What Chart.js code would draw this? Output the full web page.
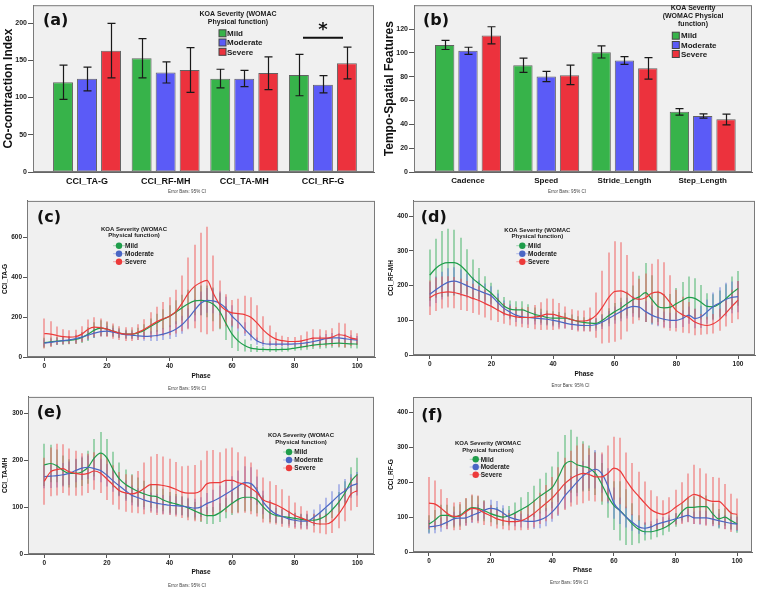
<!DOCTYPE html>
<html>
<head>
<meta charset="utf-8">
<script src="https://cdn.jsdelivr.net/npm/chart.js@4.4.1/dist/chart.umd.min.js"></script>
<style>
  body { margin: 0; background: #fff; width: 757px; height: 589px; position: relative; overflow: hidden; }
  canvas { position: absolute; }
</style>
</head>
<body>
<canvas id="pa" width="378" height="196" style="left:0;top:0"></canvas>
<canvas id="pb" width="379" height="196" style="left:378px;top:0"></canvas>
<canvas id="pc" width="378" height="196" style="left:0;top:196px"></canvas>
<canvas id="pd" width="379" height="196" style="left:378px;top:196px"></canvas>
<canvas id="pe" width="378" height="197" style="left:0;top:392px"></canvas>
<canvas id="pf" width="379" height="197" style="left:378px;top:392px"></canvas>
<script>
const FONT = "'Liberation Sans', Arial, sans-serif";
const sevLabels = ['Mild', 'Moderate', 'Severe'];
const BAR_COL = ['#37b34a', '#5b5bf7', '#ec323d'];
const LINE_COL = ['#1f9d4b', '#4a66c4', '#ec3a3a'];
const ERR_COL = ['rgba(40,170,80,0.42)', 'rgba(90,110,220,0.42)', 'rgba(240,80,80,0.45)'];

// (a) co-contraction index, mean and 95% CI
const aCats = ['CCI_TA-G', 'CCI_RF-MH', 'CCI_TA-MH', 'CCI_RF-G'];
const aTicks = [0, 50, 100, 150, 200];
const aMild = [120.4, 152.7, 125.2, 130.4];
const aMildLo = [97.6, 126.5, 113, 102.4];
const aMildHi = [143.5, 179, 138, 158];
const aMod = [125.2, 133.5, 125.2, 117.3];
const aModLo = [109, 119.5, 114.7, 106.3];
const aModHi = [140.9, 148, 136.5, 129.5];
const aSev = [162.8, 137, 133, 146];
const aSevLo = [126.5, 107, 110.7, 125];
const aSevHi = [199.6, 167, 154.5, 167.6];

// (b) tempo-spatial features
const bCats = ['Cadence', 'Speed', 'Stride_Length', 'Step_Length'];
const bTicks = [0, 20, 40, 60, 80, 100, 120];
const bMild = [106.6, 89.5, 100.6, 50.5];
const bMildLo = [102.8, 83.7, 95.7, 47.7];
const bMildHi = [110.5, 95.5, 105.8, 53.2];
const bMod = [101.7, 80.2, 93.5, 46.9];
const bModLo = [98.7, 75.8, 90.3, 45.3];
const bModHi = [104.7, 84.5, 96.8, 48.8];
const bSev = [114.5, 81.3, 87, 44.2];
const bSevLo = [107.5, 73.4, 78, 39.5];
const bSevHi = [121.9, 89.7, 96, 48.5];

// phase for the curve panels
const phase = [0,2,4,6,8,10,12,14,16,18,20,22,24,26,28,30,32,34,36,38,40,42,44,46,48,50,
  52,54,56,58,60,62,64,66,68,70,72,74,76,78,80,82,84,86,88,90,92,94,96,98,100];
const phaseTicks = [0, 20, 40, 60, 80, 100];

// (c) CCI_TA-G
const cTicks = [0, 200, 400, 600];
const cMild = [72,76,80,82,84,88,98,115,135,145,140,130,120,115,115,122,135,155,172,190,205,225,248,268,282,285,280,265,230,170,115,80,58,45,40,38,37,37,38,40,45,50,55,60,63,66,68,70,68,66,65];
const cMildCI = [25,22,20,20,20,22,28,35,40,40,35,28,25,22,22,25,30,38,45,50,55,60,65,70,72,75,80,85,90,85,70,50,30,20,15,12,12,12,12,12,14,16,18,20,22,22,22,22,22,22,22];
const cMod = [70,74,78,82,86,92,100,110,120,128,130,125,118,112,110,106,104,105,108,115,125,140,162,195,235,270,285,282,270,245,205,175,140,108,80,68,65,65,65,65,66,68,72,78,85,92,96,96,92,88,85];
const cModCI = [18,18,18,18,18,20,22,25,25,25,25,22,20,20,20,20,22,25,28,30,35,40,45,50,55,60,62,62,60,58,55,45,35,25,18,15,14,14,14,14,15,16,18,20,22,24,25,25,24,22,20];
const cSev = [118,115,108,102,100,102,115,140,150,148,140,130,120,115,115,125,140,160,178,192,205,228,270,320,355,375,385,320,265,235,222,218,213,200,170,135,108,90,82,78,78,80,88,95,95,95,100,112,108,95,90];
const cSevCI = [75,65,45,38,35,35,40,48,50,45,40,38,35,35,35,40,50,65,75,85,95,110,140,180,210,250,270,190,120,80,65,75,95,100,90,70,50,35,25,22,22,30,40,45,45,40,45,60,60,40,30];

// (d) CCI_RF-MH
const dTicks = [0, 100, 200, 300, 400];
const dMild = [230,250,262,266,266,258,240,220,206,192,178,160,142,132,130,130,124,117,113,108,106,106,106,102,97,94,92,91,100,113,125,135,148,160,168,180,160,140,136,138,148,158,166,163,152,140,139,148,162,178,192];
const dMildCI = [74,85,95,98,95,80,65,55,45,35,30,28,25,25,25,25,22,20,20,20,20,18,16,15,15,15,15,15,18,22,25,30,35,40,60,85,70,45,40,38,45,52,60,58,50,38,36,38,42,48,50];
const dMod = [175,188,200,210,213,208,200,192,185,178,170,152,135,124,115,110,108,106,105,103,100,96,92,88,86,85,85,88,95,105,115,125,135,140,138,125,115,108,103,100,100,105,115,105,110,125,140,150,160,166,168];
const dModCI = [35,38,40,40,40,38,35,32,30,28,28,25,22,22,20,20,20,18,18,18,18,17,16,15,15,15,16,18,20,22,25,28,30,30,30,30,28,25,22,22,22,24,25,28,32,35,40,45,48,46,45];
const dSev = [165,175,180,182,180,175,170,163,157,148,140,130,120,114,110,108,108,109,112,118,117,112,108,102,98,98,102,115,138,165,183,185,178,165,160,165,178,181,172,150,128,116,108,95,88,85,90,102,120,140,158];
const dSevCI = [50,48,46,45,45,45,43,42,41,40,40,35,30,28,28,28,30,35,40,45,45,38,32,30,30,30,35,65,105,130,145,140,110,75,60,70,85,95,95,80,60,52,45,38,30,25,28,32,38,48,55];

// (e) CCI_TA-MH
const eTicks = [0, 100, 200, 300];
const eMild = [190,193,188,178,172,172,175,185,205,215,205,180,160,148,140,133,128,124,122,115,110,107,103,98,92,86,82,82,88,98,108,117,121,121,115,100,88,82,80,78,76,74,72,72,75,82,95,110,130,155,170];
const eMildCI = [45,40,35,32,30,30,30,35,40,45,40,38,35,32,30,30,28,26,25,24,22,21,20,20,19,18,18,18,20,22,25,28,30,30,28,25,20,16,15,14,12,12,12,12,13,15,18,22,25,30,35];
const eMod = [165,166,167,169,172,178,183,185,182,178,168,156,145,135,125,120,115,111,108,106,104,103,102,100,98,100,108,113,120,128,136,145,152,150,135,110,95,85,80,75,72,70,70,78,88,100,112,125,135,145,150];
const eModCI = [25,25,25,25,25,25,25,25,25,25,24,23,22,22,21,20,20,20,20,20,20,20,20,20,20,21,22,24,26,28,30,33,35,35,30,25,20,18,16,15,15,15,16,17,18,20,22,24,25,25,25];
const eSev = [155,175,180,182,175,172,170,172,177,172,160,147,135,130,128,132,140,148,148,146,143,138,132,130,130,135,150,152,152,157,157,152,148,140,130,115,110,105,98,90,82,77,72,66,64,64,70,85,105,128,135];
const eSevCI = [50,52,55,52,50,48,45,42,40,42,45,42,40,40,40,45,55,60,65,62,60,58,55,58,60,65,70,70,65,68,70,65,60,55,50,48,45,42,40,34,28,25,20,20,20,22,25,30,35,35,35];

// (f) CCI_RF-G
const fTicks = [0, 100, 200, 300, 400];
const fMild = [80,92,105,105,100,105,118,127,125,118,110,104,100,104,112,122,132,145,160,172,185,215,250,260,250,245,240,225,195,160,133,118,100,80,65,58,58,62,68,78,92,115,128,128,130,130,110,95,100,90,80];
const fMildCI = [25,28,30,30,30,32,35,35,35,30,25,25,25,28,30,35,40,45,50,55,60,72,85,90,80,72,65,62,60,62,70,85,80,60,40,25,22,20,20,20,20,25,30,32,35,32,30,28,25,25,25];
const fMod = [72,74,78,86,95,97,98,105,112,120,125,122,112,100,94,90,88,88,92,100,115,135,160,180,200,218,230,237,225,190,140,118,100,85,72,68,72,80,85,90,95,100,105,98,98,98,94,90,86,82,80];
const fModCI = [20,20,20,20,20,20,22,22,24,25,25,24,22,20,20,20,20,22,24,26,28,32,36,38,40,42,48,55,55,50,45,38,30,24,20,18,16,15,15,15,15,16,18,18,20,20,20,20,20,20,20];
const fSev = [140,137,125,110,102,103,115,125,122,112,104,95,90,87,87,90,98,110,125,140,155,175,195,210,220,225,222,215,215,225,240,232,205,180,160,140,122,112,108,115,128,140,155,165,160,150,145,145,130,112,108];
const fSevCI = [75,68,55,45,40,40,40,40,40,35,30,28,25,25,25,28,35,40,45,52,60,68,75,80,85,85,75,70,70,80,90,95,80,75,70,62,55,48,40,42,50,60,70,85,80,75,70,68,65,55,45];

const barTitle = ['KOA Severity (WOMAC', 'Physical function)'];
const bTitle = ['KOA Severity', '(WOMAC Physical', 'function)'];

// per-panel decoration (canvas pixel positions)
const panels = {
  pa: { label: '(a)', lx: 43, ly: 21, note: [187, 192],
        lo: [aMildLo, aModLo, aSevLo], hi: [aMildHi, aModHi, aSevHi],
        legend: { box: true, title: barTitle, tx: 238, ty: [14, 22], tf: 7, ix: 222.5, iy: [33.3, 42.5, 51.8], f: 8, lx: 227 },
        sig: { x1: 303, x2: 343, y: 37.7 } },
  pb: { label: '(b)', lx: 45, ly: 20.5, note: [189, 192],
        lo: [bMildLo, bModLo, bSevLo], hi: [bMildHi, bModHi, bSevHi],
        legend: { box: true, title: bTitle, tx: 315, ty: [8.3, 16.3, 24.3], tf: 7, ix: 297.8, iy: [35.7, 45, 54], f: 8, lx: 303 } },
  pc: { label: '(c)', lx: 37, ly: 22.3, note: [187, 193], mean: [cMild, cMod, cSev], ci: [cMildCI, cModCI, cSevCI],
        legend: { title: barTitle, tx: 134, ty: [33, 39], tf: 6, ix: 119, iy: [49.7, 57.7, 65.7], f: 6.5, lx: 125 } },
  pd: { label: '(d)', lx: 42.7, ly: 21.5, note: [192.5, 190], mean: [dMild, dMod, dSev], ci: [dMildCI, dModCI, dSevCI],
        legend: { title: barTitle, tx: 159.3, ty: [34, 40], tf: 6, ix: 144.3, iy: [49.7, 57.7, 65.7], f: 6.5, lx: 150 } },
  pe: { label: '(e)', lx: 36.7, ly: 21.3, note: [187, 193.7], mean: [eMild, eMod, eSev], ci: [eMildCI, eModCI, eSevCI],
        legend: { title: barTitle, tx: 301, ty: [43.7, 50.3], tf: 6, ix: 289, iy: [60, 68, 76], f: 6.5, lx: 294.3 } },
  pf: { label: '(f)', lx: 43.3, ly: 23.5, note: [191, 190.7], mean: [fMild, fMod, fSev], ci: [fMildCI, fModCI, fSevCI],
        legend: { title: barTitle, tx: 110, ty: [51.3, 58.7], tf: 6, ix: 97.7, iy: [67.3, 75, 82.7], f: 6.5, lx: 102.7 } }
};

const deco = {
  id: 'deco',
  beforeDraw(chart) {
    const { ctx, chartArea: a } = chart;
    ctx.save();
    ctx.fillStyle = '#f0f0f0';
    ctx.fillRect(a.left, a.top, a.right - a.left, a.bottom - a.top);
    ctx.restore();
  },
  beforeDatasetsDraw(chart) {
    const p = panels[chart.canvas.id];
    if (!p.mean) return;
    const { ctx, chartArea: a, scales: { x, y } } = chart;
    ctx.save();
    ctx.beginPath();
    ctx.rect(a.left, a.top, a.right - a.left, a.bottom - a.top);
    ctx.clip();
    ctx.lineWidth = 2;
    p.mean.forEach((m, k) => {
      ctx.strokeStyle = ERR_COL[k];
      ctx.beginPath();
      phase.forEach((ph, i) => {
        const px = Math.round(x.getPixelForValue(ph));
        ctx.moveTo(px, y.getPixelForValue(m[i] - p.ci[k][i]));
        ctx.lineTo(px, y.getPixelForValue(m[i] + p.ci[k][i]));
      });
      ctx.stroke();
    });
    ctx.restore();
  },
  afterDatasetsDraw(chart) {
    const p = panels[chart.canvas.id];
    if (!p.lo) return;
    const { ctx } = chart;
    const y = chart.scales.y;
    ctx.save();
    ctx.strokeStyle = '#1a1a1a';
    ctx.lineWidth = 1.2;
    p.lo.forEach((lo, k) => {
      chart.getDatasetMeta(k).data.forEach((bar, i) => {
        const x = Math.round(bar.x) + 0.5;
        const y1 = y.getPixelForValue(lo[i]);
        const y2 = y.getPixelForValue(p.hi[k][i]);
        ctx.beginPath();
        ctx.moveTo(x, y1); ctx.lineTo(x, y2);
        ctx.moveTo(x - 4, y1); ctx.lineTo(x + 4, y1);
        ctx.moveTo(x - 4, y2); ctx.lineTo(x + 4, y2);
        ctx.stroke();
      });
    });
    ctx.restore();
  },
  afterDraw(chart) {
    const p = panels[chart.canvas.id];
    const { ctx, chartArea: a } = chart;
    ctx.save();
    ctx.strokeStyle = '#7a7a7a';
    ctx.lineWidth = 1;
    ctx.strokeRect(a.left + 0.5, a.top + 0.5, a.right - a.left - 1, a.bottom - a.top - 1);

    ctx.fillStyle = '#111';
    ctx.font = "bold 16px 'DejaVu Sans', sans-serif";
    ctx.textAlign = 'left';
    ctx.textBaseline = 'middle';
    ctx.fillText(p.label, p.lx, p.ly);

    ctx.font = '4.5px ' + FONT;
    ctx.fillStyle = '#444';
    ctx.textAlign = 'center';
    ctx.fillText('Error Bars: 95% CI', p.note[0], p.note[1]);

    const L = p.legend;
    ctx.fillStyle = '#1a1a1a';
    ctx.font = 'bold ' + L.tf + 'px ' + FONT;
    L.title.forEach((t, i) => ctx.fillText(t, L.tx, L.ty[i]));
    ctx.font = 'bold ' + L.f + 'px ' + FONT;
    ctx.textAlign = 'left';
    sevLabels.forEach((s, k) => {
      const yy = L.iy[k];
      if (L.box) {
        ctx.fillStyle = BAR_COL[k];
        ctx.fillRect(L.ix - 3.5, yy - 3.5, 7, 7);
        ctx.strokeStyle = '#444';
        ctx.strokeRect(L.ix - 3.5, yy - 3.5, 7, 7);
      } else {
        ctx.strokeStyle = ERR_COL[k];
        ctx.beginPath(); ctx.moveTo(L.ix - 6, yy); ctx.lineTo(L.ix + 6, yy); ctx.stroke();
        ctx.fillStyle = LINE_COL[k];
        ctx.beginPath(); ctx.arc(L.ix, yy, 3.2, 0, Math.PI * 2); ctx.fill();
      }
      ctx.fillStyle = '#1a1a1a';
      ctx.fillText(s, L.lx, yy + 0.5);
    });

    if (p.sig) {
      ctx.strokeStyle = '#111';
      ctx.lineWidth = 2;
      ctx.beginPath(); ctx.moveTo(p.sig.x1, p.sig.y); ctx.lineTo(p.sig.x2, p.sig.y); ctx.stroke();
      ctx.font = "bold 18px 'DejaVu Sans', sans-serif";
      ctx.textAlign = 'center';
      ctx.fillStyle = '#111';
      ctx.fillText('*', (p.sig.x1 + p.sig.x2) / 2, p.sig.y - 7);
    }
    ctx.restore();
  }
};

function tickFont(size) { return { family: FONT, size: size, weight: 'bold' }; }
function fixTicks(values) { return s => { s.ticks = values.map(v => ({ value: v })); }; }

function barChart(id, cats, series, yMax, yTicks, yTitle, xMin, xMax, cp, g) {
  return new Chart(document.getElementById(id), {
    type: 'bar',
    data: {
      datasets: series.map((v, k) => ({
        label: sevLabels[k],
        data: v.map((val, i) => ({ x: i, y: val })),
        backgroundColor: BAR_COL[k],
        borderColor: '#626262',
        borderWidth: 1,
        borderSkipped: false,
        categoryPercentage: cp,
        barPercentage: 0.83
      }))
    },
    options: {
      responsive: false,
      animation: false,
      layout: { padding: { top: g.top, right: g.right, left: 0, bottom: 0 } },
      plugins: { legend: { display: false }, tooltip: { enabled: false } },
      scales: {
        x: {
          type: 'linear', min: xMin, max: xMax, offset: false,
          grid: { display: false, drawTicks: false, offset: false },
          border: { color: '#666' },
          ticks: { autoSkip: false, maxRotation: 0, padding: 4,
                   color: '#111', font: tickFont(g.cf), callback: v => cats[v] ?? '' },
          afterBuildTicks: fixTicks(cats.map((c, i) => i)),
          afterFit: s => { s.height = g.xh; }
        },
        y: {
          min: 0, max: yMax,
          grid: { drawOnChartArea: false, tickLength: 5, color: '#555' },
          border: { color: '#666' },
          ticks: { padding: 1, color: '#222', font: tickFont(7) },
          afterBuildTicks: fixTicks(yTicks),
          title: { display: true, text: yTitle, color: '#111', font: tickFont(12), padding: { top: g.tp, bottom: 0 } },
          afterFit: s => { s.width = g.yw; }
        }
      }
    },
    plugins: [deco]
  });
}

function lineChart(id, yTitle, yMax, yTicks, xMin, xMax, g) {
  const p = panels[id];
  return new Chart(document.getElementById(id), {
    type: 'line',
    data: {
      datasets: p.mean.map((m, k) => ({
        label: sevLabels[k],
        data: m.map((val, i) => ({ x: phase[i], y: val })),
        borderColor: LINE_COL[k],
        borderWidth: 1.2,
        pointRadius: 0,
        fill: false,
        cubicInterpolationMode: 'monotone',
        order: 2 - k
      }))
    },
    options: {
      responsive: false,
      animation: false,
      layout: { padding: { top: g.top, right: g.right, left: 0, bottom: 0 } },
      plugins: { legend: { display: false }, tooltip: { enabled: false } },
      scales: {
        x: {
          type: 'linear', min: xMin, max: xMax,
          grid: { drawOnChartArea: false, tickLength: 4, color: '#555' },
          border: { color: '#666' },
          ticks: { maxRotation: 0, padding: 1, color: '#222', font: tickFont(6.5) },
          afterBuildTicks: fixTicks(phaseTicks),
          title: { display: true, text: 'Phase', color: '#111', font: tickFont(6.5), padding: { top: 0, bottom: g.pb } },
          afterFit: s => { s.height = g.xh; }
        },
        y: {
          min: 0, max: yMax,
          grid: { drawOnChartArea: false, tickLength: 4, color: '#555' },
          border: { color: '#666' },
          ticks: { padding: 1, color: '#222', font: tickFont(6.5) },
          afterBuildTicks: fixTicks(yTicks),
          title: { display: true, text: yTitle, color: '#111', font: tickFont(6.5), padding: { top: g.tp, bottom: 0 } },
          afterFit: s => { s.width = g.yw; }
        }
      }
    },
    plugins: [deco]
  });
}

barChart('pa', aCats, [aMild, aMod, aSev], 224, aTicks, 'Co-contraction Index', -0.687, 3.65, 0.916,
  { top: 1, right: 4, xh: 24, yw: 33, tp: 1, cf: 9 });
barChart('pb', bCats, [bMild, bMod, bSev], 140, bTicks, 'Tempo-Spatial Features', -0.69, 3.63, 0.894,
  { top: 1, right: 5, xh: 24, yw: 36, tp: 4.5, cf: 8 });
lineChart('pc', 'CCI_TA-G', 785, cTicks, -5.53, 105.65, { top: 2, right: 3, xh: 35, yw: 27, tp: 1.6, pb: 12.1 });
lineChart('pd', 'CCI_RF-MH', 444, dTicks, -5.42, 105.5, { top: 4, right: 2, xh: 37, yw: 35, tp: 9.4, pb: 14.1 });
lineChart('pe', 'CCI_TA-MH', 335, eTicks, -5.2, 105.3, { top: 4, right: 4, xh: 35, yw: 28, tp: 1.6, pb: 12.4 });
lineChart('pf', 'CCI_RF-G', 444, fTicks, -5.19, 104.8, { top: 5, right: 5, xh: 37, yw: 35, tp: 9.4, pb: 15.1 });
</script>
</body>
</html>
